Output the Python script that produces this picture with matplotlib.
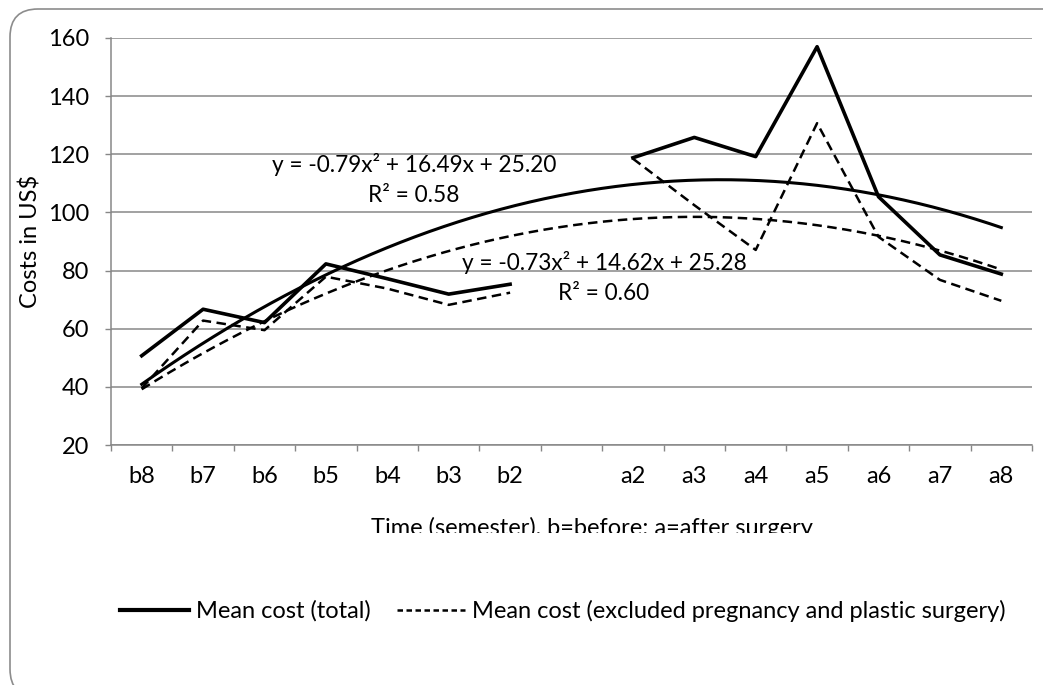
"""
Costes medios por semestre antes/despues de cirugia, con lineas de tendencia
polinomicas (estilo grafico de Excel).
"""
import numpy as np
import matplotlib
matplotlib.use("Agg")
import matplotlib.pyplot as plt
from matplotlib.patches import FancyBboxPatch
from matplotlib.transforms import Bbox, IdentityTransform

plt.rcParams['font.family'] = ['Lato', 'DejaVu Sans']

# datos
categories = ["b8", "b7", "b6", "b5", "b4", "b3", "b2", "",
              "a2", "a3", "a4", "a5", "a6", "a7", "a8"]
cost_total = [50.7, 66.7, 62.1, 82.3, 77.2, 71.9, 75.3, np.nan,
              118.8, 125.8, 119.2, 157.0, 105.4, 85.4, 78.8]
cost_excl = [39.5, 62.8, 59.5, 77.9, 73.8, 68.2, 72.4, np.nan,
             118.5, 102.5, 87.1, 130.7, 91.6, 76.8, 69.6]
# coeficientes de las tendencias (x = 1..15), tal como aparecen en el grafico
trend_total = [-0.79, 16.49, 25.20]
trend_excl = [-0.73, 14.62, 25.28]
label_total = "Mean cost (total)"
label_excl = "Mean cost (excluded pregnancy and plastic surgery)"

GRAY = "#878787"
FS = 17
W, H = 1043, 685

fig = plt.figure(figsize=(W / 100, H / 100), dpi=100)
ax = fig.add_axes([111 / W, 240 / H, 921 / W, 407 / H])

x = np.arange(1, len(categories) + 1)
xs = np.linspace(1, len(categories), 300)

ax.plot(x, cost_total, color="black", lw=2.6, label=label_total)
ax.plot(x, cost_excl, color="black", lw=1.8, dashes=(3.8, 2.2), label=label_excl)
ax.plot(xs, np.polyval(trend_total, xs), color="black", lw=2.2)
ax.plot(xs, np.polyval(trend_excl, xs), color="black", lw=1.8, dashes=(3.8, 2.2))

ax.set_xlim(0.5, len(categories) + 0.5)
ax.set_ylim(20, 160)
ax.set_yticks(np.arange(20, 161, 20))
ax.set_xticks(np.arange(0.5, len(categories) + 1, 1))
ax.set_xticklabels([])
ax.set_xticks(x, minor=True)
ax.set_xticklabels(categories, minor=True)
ax.tick_params(axis="x", which="major", direction="out", length=4.5,
               width=1, color=GRAY)
ax.tick_params(axis="x", which="minor", length=0, pad=15, labelsize=FS)
ax.tick_params(axis="y", direction="out", length=4.5, width=1, color=GRAY,
               pad=11, labelsize=FS)

ax.grid(axis="y", color=GRAY, lw=1.1)
ax.set_axisbelow(True)
for s in ["top", "right"]:
    ax.spines[s].set_visible(False)
for s in ["left", "bottom"]:
    ax.spines[s].set_color(GRAY)
    ax.spines[s].set_linewidth(1.1)

ax.set_ylabel("Costs in US$", fontsize=FS, labelpad=5)

# etiquetas de las tendencias
ax.text(414 / W, (H - 165) / H, "y = -0.79x² + 16.49x + 25.20",
        transform=fig.transFigure, ha="center", va="center", fontsize=16.3)
ax.text(414 / W, (H - 195) / H, "R² = 0.58",
        transform=fig.transFigure, ha="center", va="center", fontsize=16.3)
ax.text(604 / W, (H - 263) / H, "y = -0.73x² + 14.62x + 25.28",
        transform=fig.transFigure, ha="center", va="center", fontsize=16.3)
ax.text(604 / W, (H - 294) / H, "R² = 0.60",
        transform=fig.transFigure, ha="center", va="center", fontsize=16.3)

# titulo del eje x, recortado por abajo como en el original
xl = fig.text(592 / W, (H - 517) / H, "Time (semester), b=before; a=after surgery",
              ha="center", va="top", fontsize=FS)
xl.set_clip_box(Bbox.from_extents(0, H - 533, W, H))
xl.set_clip_on(True)

# leyenda
leg = ax.legend(loc="center", bbox_to_anchor=(563 / W, (H - 611) / H),
                bbox_transform=fig.transFigure, ncol=2, frameon=False,
                fontsize=FS, handlelength=2.9, handletextpad=0.3,
                columnspacing=1.1, borderaxespad=0)
leg.get_lines()[0].set_linewidth(3.0)
leg.get_lines()[1].set_dashes((2.2, 1.4))

# marco redondeado del area del grafico
frame = FancyBboxPatch((10, -12), 1100, H - 9 + 12,
                       boxstyle="round,pad=0,rounding_size=28",
                       transform=IdentityTransform(), fill=False,
                       edgecolor="#8c8c8c", lw=1.2)
fig.add_artist(frame)

fig.savefig("out.png", dpi=100)
